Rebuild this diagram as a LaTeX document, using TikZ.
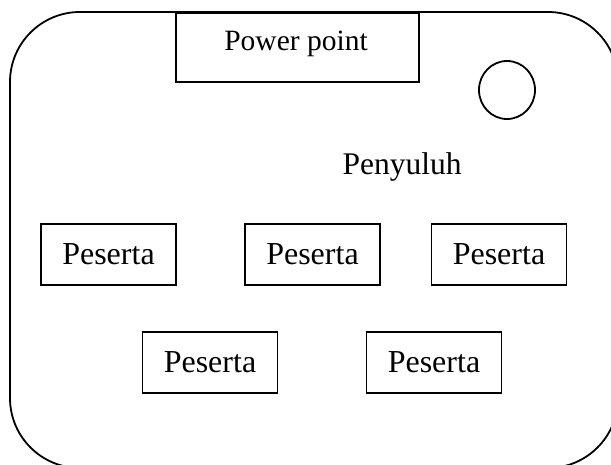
\documentclass[tikz,border=0pt]{standalone}
\usepackage{fontspec}
\setmainfont{Liberation Serif}
\usetikzlibrary{shapes.geometric}
\begin{document}
\begin{tikzpicture}[x=1pt,y=-1pt,line width=1.8pt,
  pbox/.style={draw,rectangle,minimum width=135pt,minimum height=61pt,inner sep=0pt,font=\fontsize{32}{36}\selectfont}]
\useasboundingbox (0,0) rectangle (611,465);
\clip (0,0) rectangle (611,465);
% outer room (extends beyond the right and bottom edges, as in the reference)
\draw[rounded corners=70pt] (10,12) rectangle (618,468);
\node[draw,rectangle,minimum width=243pt,minimum height=69pt,inner sep=0pt,anchor=north west] (pp) at (175,12) {};
\node[anchor=base,inner sep=0pt,font=\fontsize{29.5}{34}\selectfont] (pptext) at (296,50.5) {Power point};
\node[draw,ellipse,minimum width=56pt,minimum height=58pt,inner sep=0pt] (c) at (507,90) {};
\node[anchor=base,inner sep=0pt,font=\fontsize{31.5}{36}\selectfont] (pen) at (402,175) {Penyuluh};
\node[pbox] (p1) at (108.5,254.5) {Peserta};
\node[pbox] (p2) at (312.5,254.5) {Peserta};
\node[pbox] (p3) at (499,254.5) {Peserta};
\node[pbox] (p4) at (210,362.5) {Peserta};
\node[pbox] (p5) at (434,362.5) {Peserta};
\end{tikzpicture}
\end{document}
